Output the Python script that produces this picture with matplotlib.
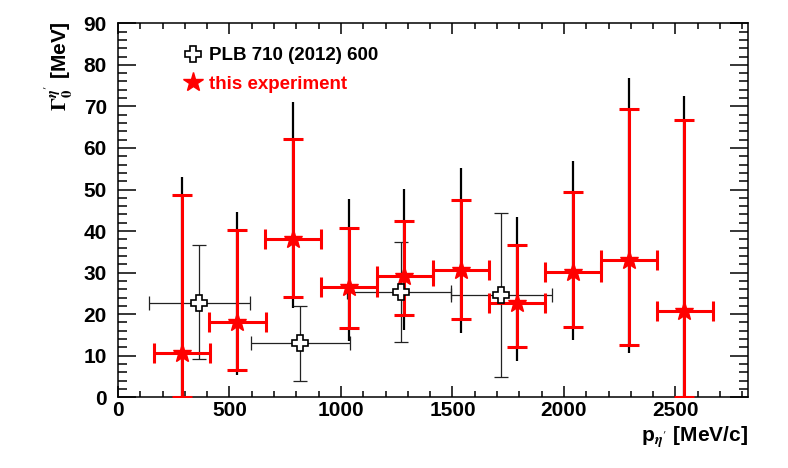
import matplotlib
matplotlib.use('Agg')
import matplotlib.pyplot as plt
from matplotlib.lines import Line2D
from matplotlib.ticker import MultipleLocator

plt.rcParams['font.family'] = ['Liberation Sans', 'DejaVu Sans']
plt.rcParams['font.weight'] = 'bold'
plt.rcParams['mathtext.fontset'] = 'stix'

# this experiment: bin centres, bin edges, values, stat and total error ranges
exp_x = [286, 533, 784, 1034, 1284, 1539, 1789, 2039, 2290, 2540]
exp_xlo = [161, 410, 660, 910, 1162, 1412, 1665, 1915, 2165, 2416]
exp_xhi = [411, 662, 912, 1162, 1412, 1665, 1916, 2165, 2416, 2667]
exp_y = [10.7, 18.2, 38.1, 26.6, 29.3, 30.6, 22.6, 30.2, 33.0, 20.8]
stat_lo = [0.0, 6.6, 24.1, 16.6, 19.8, 18.9, 12.2, 17.0, 12.7, 0.0]
stat_hi = [48.7, 40.3, 62.2, 40.7, 42.4, 47.5, 36.7, 49.5, 69.4, 66.7]
tot_lo = [-5.0, 5.4, 21.6, 13.5, 16.2, 15.4, 8.8, 13.8, 10.6, -5.0]
tot_hi = [52.9, 44.6, 71.0, 47.7, 50.1, 55.1, 43.5, 56.9, 76.8, 72.6]

# PLB 710 (2012) 600
plb_x = [364, 817, 1269, 1719]
plb_xlo = [141, 595, 1027, 1493]
plb_xhi = [592, 1041, 1493, 1946]
plb_y = [22.8, 13.0, 25.4, 24.6]
plb_lo = [9.1, 3.8, 13.4, 5.0]
plb_hi = [36.6, 22.0, 37.4, 44.3]

fig = plt.figure(figsize=(7.88, 4.68), dpi=100)
ax = fig.add_axes([0.1497, 0.1511, 0.7995, 0.7991])

# total errors (black, behind)
ax.vlines(exp_x, tot_lo, tot_hi, color='black', lw=1.6, zorder=1)

# PLB points
plb_xerr = [[x - lo for x, lo in zip(plb_x, plb_xlo)],
            [hi - x for x, hi in zip(plb_x, plb_xhi)]]
plb_yerr = [[y - lo for y, lo in zip(plb_y, plb_lo)],
            [hi - y for y, hi in zip(plb_y, plb_hi)]]
ax.errorbar(plb_x, plb_y, xerr=plb_xerr, yerr=plb_yerr, fmt='none',
            ecolor='#222222', elinewidth=0.9, capsize=5, capthick=0.9, zorder=2)
ax.plot(plb_x, plb_y, ls='none', marker='P', ms=11, mfc='white',
        mec='black', mew=1.2, zorder=5)

# this experiment
exp_xerr = [[x - lo for x, lo in zip(exp_x, exp_xlo)],
            [hi - x for x, hi in zip(exp_x, exp_xhi)]]
exp_yerr = [[y - lo for y, lo in zip(exp_y, stat_lo)],
            [hi - y for y, hi in zip(exp_y, stat_hi)]]
ax.errorbar(exp_x, exp_y, xerr=exp_xerr, yerr=exp_yerr, fmt='*', ms=14,
            color='red', mec='red', ecolor='red', elinewidth=2.2,
            capsize=7.5, capthick=2.2, zorder=3)

ax.set_xlim(0, 2825)
ax.set_ylim(0, 90)
ax.xaxis.set_major_locator(MultipleLocator(500))
ax.xaxis.set_minor_locator(MultipleLocator(100))
ax.yaxis.set_major_locator(MultipleLocator(10))
ax.yaxis.set_minor_locator(MultipleLocator(2))
ax.tick_params(which='both', direction='in', top=True, right=True,
               labelsize=15, width=1.1)
ax.tick_params(axis='x', which='major', length=8, pad=3)
ax.tick_params(axis='x', which='minor', length=4)
ax.tick_params(axis='y', which='major', length=13, pad=8)
ax.tick_params(axis='y', which='minor', length=6.5)
for lab in ax.get_xticklabels() + ax.get_yticklabels():
    lab.set_fontweight('bold')
for sp in ax.spines.values():
    sp.set_linewidth(1.1)

fig.text(59 / 788, 1 - 21 / 468, r"$\Gamma_{0}^{\eta^{\prime}}$ [MeV]",
         rotation=90, ha='center', va='top', fontsize=15, fontweight='bold')
fig.text(748 / 788, 1 - 442 / 468, r"p$_{\eta^{\prime}}$ [MeV/c]",
         ha='right', va='baseline', fontsize=15, fontweight='bold')

handles = [Line2D([], [], ls='none', marker='P', ms=11, mfc='white',
                  mec='black', mew=1.2),
           Line2D([], [], ls='none', marker='*', ms=15, color='red')]
leg = ax.legend(handles, ['PLB 710 (2012) 600', 'this experiment'],
                loc='upper left', bbox_to_anchor=(175 / 788, 1 - 38 / 468),
                bbox_transform=fig.transFigure, frameon=False,
                handlelength=0.9, handletextpad=0.4, borderpad=0,
                labelspacing=0.6, prop={'size': 13.5, 'weight': 'bold'})
leg.get_texts()[1].set_color('red')

fig.savefig('out.png', dpi=100)
